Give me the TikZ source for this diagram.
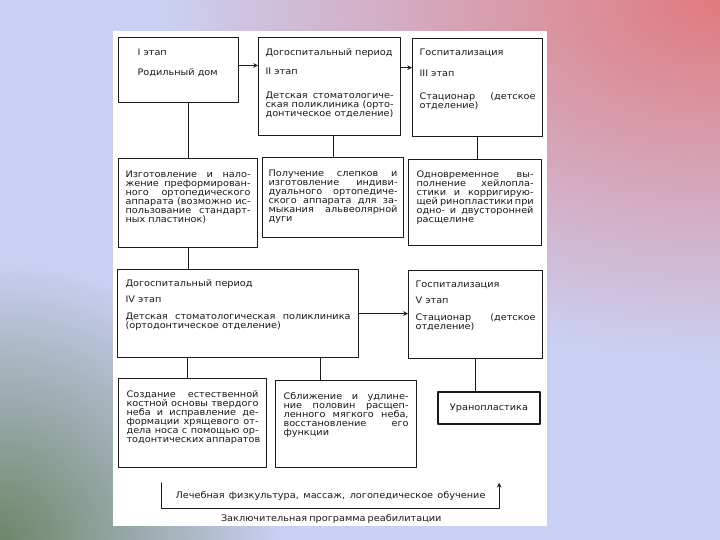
\documentclass[tikz,border=0pt]{standalone}
\usepackage{fontspec}
\setmainfont{DejaVu Sans}[FakeStretch=1.08]
\usetikzlibrary{calc}
\definecolor{bgbase}{RGB}{202,208,242}
\definecolor{bgred}{RGB}{224,122,126}
\definecolor{bggreen}{RGB}{108,134,104}
\definecolor{ink}{RGB}{25,25,25}
% one justified line of a box text
\newcommand{\jl}[1]{\makebox[\linewidth][s]{#1}\\}
% text of a box: width, height, top gap, text
\newcommand{\cell}[4]{\parbox[c][#2][t]{#1}{\vspace*{#3}#4}}
\begin{document}
\begin{tikzpicture}[x=1pt,y=-1pt,line join=round,line cap=round,>=stealth,
    stage/.style={draw=ink,line width=1.1pt,anchor=north west,inner xsep=7pt,inner ysep=0pt,
      text=ink,font=\fontsize{9}{9.1}\selectfont},
    link/.style={draw=ink,line width=1.1pt}]
    \useasboundingbox (0,0) rectangle (720,540);
    % slide background
    \fill[bgbase] (0,0) rectangle (720,540);
    \begin{scope}
        \clip (0,0) rectangle (720,540);
        \shade[inner color=bgred,outer color=bgbase] (720,0) ellipse (560pt and 360pt);
        \shade[inner color=bggreen,outer color=bgbase] (0,540) circle (280pt);
    \end{scope}
    \fill[white] (113,31) rectangle (547,526);
    % first row
    \node[stage,inner xsep=19pt] (b1) at (118,37) {\cell{82pt}{65pt}{11pt}{I этап\\[11pt]Родильный дом}};
    \node[stage] (b2) at (258,37) {\cell{128pt}{98pt}{11pt}{Догоспитальный период\\[10pt]II этап\\[14.5pt]\jl{Детская стоматологиче-}\jl{ская поликлиника (орто-}донтическое отделение)}};
    \node[stage] (b3) at (412,38) {\cell{116pt}{98pt}{10pt}{Госпитализация\\[12.5pt]III этап\\[14pt]\jl{Стационар (детское}отделение)}};
    % second row
    \node[stage] (b4) at (118,158) {\cell{125pt}{89pt}{12pt}{\jl{Изготовление и нало-}\jl{жение преформирован-}\jl{ного ортопедического}\jl{аппарата (возможно ис-}\jl{пользование стандарт-}ных пластинок)}};
    \node[stage,inner xsep=6pt] (b5) at (262,157) {\cell{129pt}{80pt}{12pt}{\jl{Получение слепков и}\jl{изготовление индиви-}\jl{дуального ортопедиче-}\jl{ского аппарата для за-}\jl{мыкания альвеолярной}дуги}};
    \node[stage,inner xsep=8pt] (b6) at (408,159) {\cell{117pt}{86pt}{11pt}{\jl{Одновременное вы-}\jl{полнение хейлопла-}\jl{стики и корригирую-}\jl{щей ринопластики при}\jl{одно- и двусторонней}расщелине}};
    % third row
    \node[stage,inner xsep=8pt] (b7) at (117,269) {\cell{225pt}{88pt}{10pt}{Догоспитальный период\\[7pt]IV этап\\[8pt]\jl{Детская стоматологическая поликлиника}(ортодонтическое отделение)}};
    \node[stage] (b8) at (408,270) {\cell{120pt}{88pt}{10pt}{Госпитализация\\[7pt]V этап\\[8pt]\jl{Стационар (детское}отделение)}};
    % fourth row
    \node[stage,inner xsep=8pt] (b9) at (118,378) {\cell{132pt}{89pt}{12pt}{\jl{Создание естественной}\jl{костной основы твердого}\jl{неба и исправление де-}\jl{формации хрящевого от-}\jl{дела носа с помощью ор-}\makebox[\linewidth][s]{тодонтических аппаратов}}};
    \node[stage,inner xsep=8pt] (b10) at (275,380) {\cell{125pt}{87pt}{12pt}{\jl{Сближение и удлине-}\jl{ние половин расщеп-}\jl{ленного мягкого неба,}\jl{восстановление его}функции}};
    \node[stage,anchor=center,minimum width=102pt,minimum height=32pt] (b11) at (489,408) {Уранопластика};
    % rehabilitation
    \node[text=ink,font=\fontsize{9}{9.1}\selectfont,minimum width=337pt,minimum height=25pt,inner sep=0pt] (lfk) at (330.5,495.5) {\makebox[310pt][s]{Лечебная физкультура, массаж, логопедическое обучение}};
    \node[text=ink,font=\fontsize{9}{10}\selectfont] (fin) at (330,519) {\makebox[218pt][s]{Заключительная программа реабилитации}};
    % links
    \draw[link,->] ($(b1.north east)!0.43!(b1.south east)$) coordinate (p1) -- (p1 -| b2.west);
    \draw[link,->] ($(b2.north east)!0.31!(b2.south east)$) coordinate (p2) -- (p2 -| b3.west);
    \draw[link] (b1.south -| b4.north) -- (b4.north);
    \draw[link] (b2.south -| b5.north) -- (b5.north);
    \draw[link] (b3.south) -- (b3.south |- b6.north);
    \draw[link] (b4.south) -- (b4.south |- b7.north);
    \draw[link] ($(b7.south west)!0.29!(b7.south east)$) coordinate (p3) -- (p3 |- b9.north);
    \draw[link] ($(b7.south west)!0.84!(b7.south east)$) coordinate (p4) -- (p4 |- b10.north);
    \draw[link,->] (b7.east) -- (b7.east -| b8.west);
    \draw[link] (b8.south) -- (b8.south |- b11.north);
    \draw[link,->] (lfk.north west) -- (lfk.south west) -- (lfk.south east) -- (lfk.north east);
\end{tikzpicture}
\end{document}
